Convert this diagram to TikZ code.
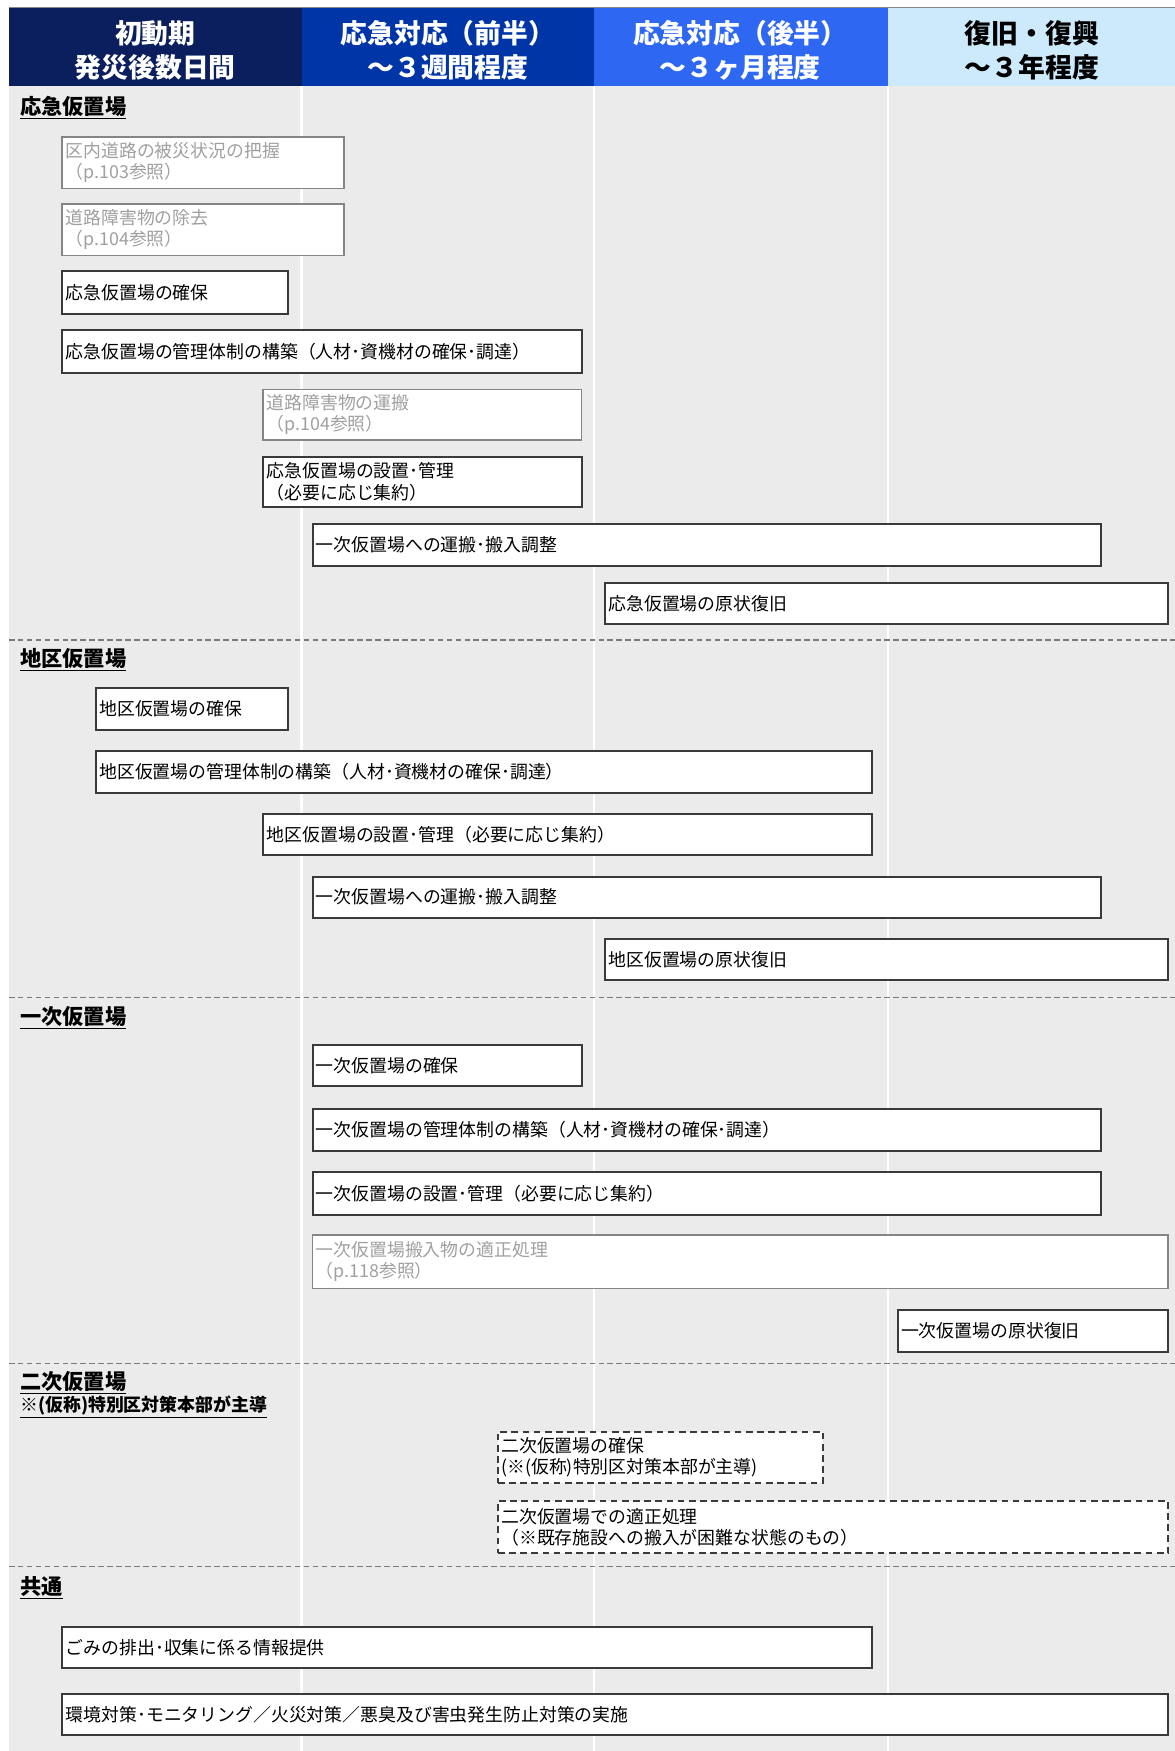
\documentclass[tikz,border=0pt]{standalone}
\usepackage{fontspec}
\setmainfont{Noto Sans CJK JP}
\definecolor{navy}{HTML}{0B1F5E}
\definecolor{royal}{HTML}{0035A8}
\definecolor{bright}{HTML}{2E68F2}
\definecolor{pale}{HTML}{CCEAFB}
\definecolor{bg}{HTML}{EBEBEB}
\definecolor{frame}{HTML}{3A3A3A}
\definecolor{greytxt}{HTML}{A0A0A0}
\definecolor{greyframe}{HTML}{858585}
\definecolor{sepline}{HTML}{7A7A7A}
\tikzset{
  hdr/.style={inner sep=0pt, align=center, font=\fontsize{24}{30}\selectfont\bfseries},
  blackbox/.style={draw=frame, line width=1.8pt, fill=white, text=black},
  greybox/.style={draw=greyframe, line width=1.5pt, fill=white, text=greytxt},
  dashbox/.style={draw=frame, line width=1.8pt, fill=white, text=black, dash pattern=on 6pt off 4pt},
  sectitle/.style={anchor=west, inner sep=0pt, font=\fontsize{19}{22}\selectfont\bfseries},
  secnote/.style={anchor=west, inner sep=0pt, font=\fontsize{16}{18}\selectfont\bfseries},
  sepdash/.style={draw=sepline, line width=1.2pt, dash pattern=on 5pt off 3pt},
}
\newcommand\task[7]{%
  \pgfmathsetmacro\tw{#4-#2-6}%
  \pgfmathsetmacro\th{#5-#3}%
  \pgfmathsetmacro\bw{#4-#2}%
  \node[#6, anchor=north west, minimum width=\bw pt, minimum height=\th pt,
        text width=\tw pt, inner xsep=3pt, inner ysep=0pt, align=left,
        font=\fontsize{16}{19}\selectfont] (#1) at (#2,#3) {#7};}
\begin{document}
\begin{tikzpicture}[x=1pt,y=-1pt]
\useasboundingbox (0,0) rectangle (1052,1568);
% background
\fill[bg] (8,77) rectangle (1052,1568);
% header
\fill[navy] (8,7) rectangle (270,77);
\fill[royal] (270,7) rectangle (532,77);
\fill[bright] (532,7) rectangle (795,77);
\fill[pale] (795,7) rectangle (1052,77);
\node[hdr, text=white] (h1) at (139,45) {初動期\\発災後数日間};
\node[hdr, text=white] (h2) at (401,45) {応急対応（前半）\\～３週間程度};
\node[hdr, text=white] (h3) at (663,45) {応急対応（後半）\\～３ヶ月程度};
\node[hdr, text=black] (h4) at (924,45) {復旧・復興\\～３年程度};
\draw[greyframe, line width=1pt] (8,7) -- (1052,7);
% column lines
\foreach \x in {270,532,795} \draw[white, line width=2pt] (\x,77) -- (\x,1568);
% separators
\foreach \y in {573,893,1221,1403} \draw[sepdash] (8,\y) -- (1052,\y);
% section titles
\node[sectitle] (s1) at (18,96) {\underline{応急仮置場}};
\node[sectitle] (s2) at (18,591) {\underline{地区仮置場}};
\node[sectitle] (s3) at (18,911) {\underline{一次仮置場}};
\node[sectitle] (s4) at (18,1238) {\underline{二次仮置場}};
\node[secnote] (s4n) at (18,1260) {\underline{※(仮称)特別区対策本部が主導}};
\node[sectitle] (s5) at (18,1422) {\underline{共通}};
% 応急仮置場
\task{a1}{55}{122}{307}{168}{greybox}{区内道路の被災状況の把握\\（p.103参照）}
\task{a2}{55}{182}{307}{228}{greybox}{道路障害物の除去\\（p.104参照）}
\task{a3}{55}{242}{257}{280}{blackbox}{応急仮置場の確保}
\task{a4}{55}{295}{520}{333}{blackbox}{応急仮置場の管理体制の構築（人材･資機材の確保･調達）}
\task{a5}{235}{348}{520}{393}{greybox}{道路障害物の運搬\\（p.104参照）}
\task{a6}{235}{408}{520}{453}{blackbox}{応急仮置場の設置･管理\\（必要に応じ集約）}
\task{a7}{279}{468}{985}{506}{blackbox}{一次仮置場への運搬･搬入調整}
\task{a8}{541}{521}{1045}{558}{blackbox}{応急仮置場の原状復旧}
% 地区仮置場
\task{b1}{85}{615}{257}{653}{blackbox}{地区仮置場の確保}
\task{b2}{85}{672}{780}{709}{blackbox}{地区仮置場の管理体制の構築（人材･資機材の確保･調達）}
\task{b3}{235}{728}{780}{765}{blackbox}{地区仮置場の設置･管理（必要に応じ集約）}
\task{b4}{279}{784}{985}{821}{blackbox}{一次仮置場への運搬･搬入調整}
\task{b5}{541}{840}{1045}{877}{blackbox}{地区仮置場の原状復旧}
% 一次仮置場
\task{c1}{279}{935}{520}{972}{blackbox}{一次仮置場の確保}
\task{c2}{279}{992}{985}{1030}{blackbox}{一次仮置場の管理体制の構築（人材･資機材の確保･調達）}
\task{c3}{279}{1049}{985}{1087}{blackbox}{一次仮置場の設置･管理（必要に応じ集約）}
\task{c4}{279}{1105}{1045}{1153}{greybox}{一次仮置場搬入物の適正処理\\（p.118参照）}
\task{c5}{803}{1172}{1045}{1210}{blackbox}{一次仮置場の原状復旧}
% 二次仮置場
\task{d1}{445}{1281}{736}{1327}{dashbox}{二次仮置場の確保\\(※(仮称)特別区対策本部が主導)}
\task{d2}{445}{1343}{1045}{1390}{dashbox}{二次仮置場での適正処理\\（※既存施設への搬入が困難な状態のもの）}
% 共通
\task{e1}{55}{1456}{780}{1493}{blackbox}{ごみの排出･収集に係る情報提供}
\task{e2}{55}{1516}{1045}{1553}{blackbox}{環境対策･モニタリング／火災対策／悪臭及び害虫発生防止対策の実施}
\end{tikzpicture}
\end{document}
